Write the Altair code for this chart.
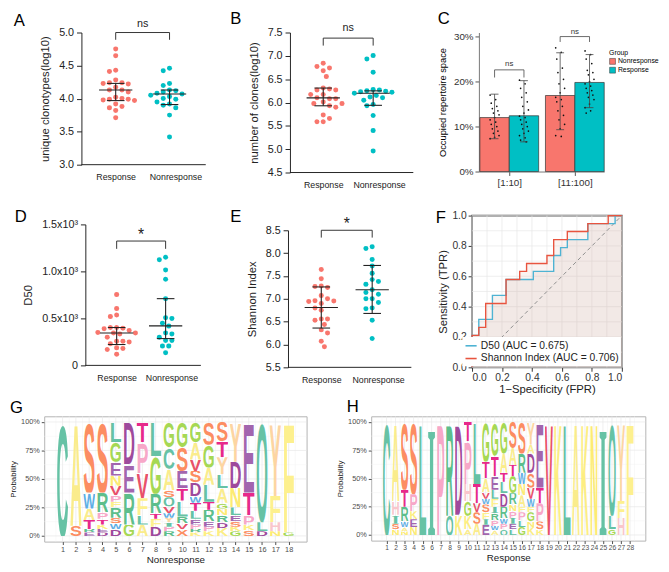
import base64
import numpy as np
import pandas as pd
import altair as alt

FONT = "Liberation Sans"
INK = "#222222"
RED = "#F8766D"
TEAL = "#00BFC4"
GROUPS = ["Response", "Nonresponse"]

# ---------------- A: unique clonotypes (log10)
A_resp = [4.75, 4.65, 4.43, 4.41, 4.28, 4.24, 4.24, 4.23, 4.22, 4.17, 4.13, 4.13,
          4.10, 4.02, 4.00, 3.99, 3.99, 3.98, 3.97, 3.92, 3.88, 3.86, 3.82, 3.71]
A_nonr = [4.46, 4.42, 4.23, 4.20, 4.13, 4.12, 4.10, 4.08, 4.07, 4.05, 4.03, 4.00,
          3.99, 3.95, 3.92, 3.90, 3.86, 3.75, 3.42]
A_med = [4.13, 4.07]
A_q1 = [3.97, 3.91]
A_q3 = [4.23, 4.13]

# ---------------- B: number of clones (log10)
B_resp = [6.84, 6.77, 6.74, 6.68, 6.56, 6.31, 6.29, 6.27, 6.27, 6.17, 6.17, 6.10,
          6.08, 6.08, 6.01, 5.98, 5.98, 5.93, 5.90, 5.73, 5.66, 5.59, 5.59]
B_nonr = [7.01, 6.93, 6.65, 6.28, 6.27, 6.25, 6.24, 6.23, 6.22, 6.20, 6.15, 6.12,
          6.10, 6.05, 5.96, 5.93, 5.72, 5.40, 4.96]
B_med = [6.10, 6.20]
B_q1 = [5.93, 5.94]
B_q3 = [6.31, 6.25]

# ---------------- D: D50
D_resp = [753, 604, 535, 520, 403, 403, 396, 390, 372, 350, 344, 344, 335, 300,
          257, 257, 250, 230, 188, 180, 170, 118]
D_nonr = [1150, 1125, 1015, 917, 708, 507, 500, 448, 420, 344, 333, 300, 264, 264,
          205, 205, 135]
D_med = [344, 420]
D_q1 = [222, 285]
D_q3 = [403, 710]

# ---------------- E: Shannon index
E_resp = [7.64, 7.44, 7.28, 7.27, 7.25, 7.07, 7.00, 6.96, 6.95, 6.94, 6.90, 6.80,
          6.75, 6.56, 6.56, 6.53, 6.44, 6.32, 6.25, 6.07, 5.95]
E_nonr = [8.14, 8.10, 7.86, 7.72, 7.56, 7.42, 7.38, 7.32, 7.20, 7.14, 7.10, 7.00,
          7.00, 6.92, 6.80, 6.78, 6.53, 6.13]
E_med = [6.81, 7.20]
E_q1 = [6.36, 6.68]
E_q3 = [7.26, 7.73]

# ---------------- C: occupied repertoire space
C_cats = ["[1:10]", "[11:100]"]
C_groups = ["Nonresponse", "Response"]
C_mean = {"Nonresponse": [0.120, 0.169], "Response": [0.124, 0.198]}
C_lo = {"Nonresponse": [0.073, 0.093], "Response": [0.066, 0.142]}
C_hi = {"Nonresponse": [0.172, 0.264], "Response": [0.202, 0.260]}
C_pts = {
    ("Nonresponse", 0): [0.170, 0.160, 0.152, 0.145, 0.140, 0.135, 0.130, 0.126, 0.120,
                         0.115, 0.110, 0.105, 0.100, 0.095, 0.090, 0.085, 0.080, 0.076, 0.073],
    ("Response", 0): [0.203, 0.195, 0.185, 0.175, 0.165, 0.155, 0.145, 0.137, 0.130, 0.123,
                      0.120, 0.115, 0.110, 0.105, 0.100, 0.095, 0.090, 0.085, 0.080, 0.075,
                      0.070, 0.066],
    ("Nonresponse", 1): [0.275, 0.265, 0.250, 0.230, 0.220, 0.205, 0.195, 0.185, 0.175, 0.165,
                         0.160, 0.155, 0.145, 0.135, 0.125, 0.115, 0.105, 0.095, 0.080, 0.078],
    ("Response", 1): [0.268, 0.260, 0.250, 0.240, 0.225, 0.220, 0.215, 0.205, 0.200, 0.195,
                      0.190, 0.185, 0.180, 0.175, 0.170, 0.165, 0.160, 0.150, 0.142, 0.135, 0.130],
}

# ---------------- F: ROC
F_names = ["D50 (AUC = 0.675)", "Shannon Index (AUC = 0.706)"]
F_d50_fpr = [0, 0, 0.045, 0.045, 0.136, 0.136, 0.227, 0.227, 0.409, 0.409, 0.545, 0.545,
             0.591, 0.591, 0.636, 0.636, 0.773, 0.773, 0.955, 0.955, 1.0]
F_d50_tpr = [0, 0.211, 0.211, 0.316, 0.316, 0.474, 0.474, 0.579, 0.579, 0.632, 0.632, 0.737,
             0.737, 0.789, 0.789, 0.842, 0.842, 0.947, 0.947, 1.0, 1.0]
F_sh_fpr = [0, 0, 0.045, 0.045, 0.091, 0.091, 0.227, 0.227, 0.318, 0.318, 0.364, 0.364,
            0.500, 0.500, 0.545, 0.545, 0.636, 0.636, 0.773, 0.773, 0.909, 0.909, 1.0]
F_sh_tpr = [0, 0.211, 0.211, 0.263, 0.263, 0.421, 0.421, 0.579, 0.579, 0.632, 0.632, 0.684,
            0.684, 0.737, 0.737, 0.842, 0.842, 0.895, 0.895, 0.947, 0.947, 1.0, 1.0]

# ---------------- G / H: sequence logos (letters listed top to bottom)
G_logo = [
    [("C", 1.0)],
    [("A", .91), ("S", .09)],
    [("S", .62), ("W", .14), ("A", .10), ("T", .08), ("R", .03), ("E", .03)],
    [("S", .62), ("R", .17), ("P", .06), ("T", .05), ("K", .04), ("E", .03), ("D", .03)],
    [("L", .18), ("G", .17), ("E", .12), ("N", .09), ("V", .08), ("P", .06), ("F", .05),
     ("R", .09), ("S", .05), ("W", .05), ("D", .06)],
    [("D", .37), ("E", .25), ("R", .28), ("G", .10)],
    [("T", .18), ("P", .27), ("V", .22), ("F", .15), ("L", .08), ("A", .10)],
    [("L", .30), ("G", .33), ("R", .17), ("T", .05), ("F", .07), ("D", .08)],
    [("G", .22), ("C", .19), ("A", .19), ("S", .06), ("Q", .08), ("V", .06), ("W", .04),
     ("Y", .04), ("I", .04), ("P", .04), ("R", .04)],
    [("G", .22), ("S", .21), ("E", .15), ("T", .11), ("L", .14), ("R", .06), ("V", .05), ("X", .06)],
    [("G", .18), ("A", .15), ("V", .10), ("S", .10), ("D", .12), ("W", .06), ("T", .07),
     ("L", .07), ("E", .05), ("P", .04), ("R", .03), ("K", .03)],
    [("S", .20), ("G", .20), ("A", .15), ("L", .15), ("T", .07), ("R", .10), ("E", .05),
     ("P", .04), ("K", .04)],
    [("S", .17), ("T", .14), ("Y", .15), ("L", .12), ("A", .13), ("G", .05), ("N", .06),
     ("R", .06), ("D", .05), ("K", .07)],
    [("Y", .35), ("D", .23), ("N", .17), ("L", .07), ("E", .05), ("S", .05), ("K", .04), ("G", .04)],
    [("E", .62), ("T", .20), ("P", .08), ("K", .05), ("S", .05)],
    [("Q", .88), ("L", .08), ("D", .04)],
    [("Y", .65), ("F", .23), ("H", .08), ("N", .04)],
    [("F", .97), ("G", .03)],
]
H_logo = [
    [("C", 1.0)],
    [("A", .70), ("H", .12), ("I", .08), ("S", .05), ("N", .05)],
    [("S", .60), ("T", .15), ("R", .13), ("W", .05), ("A", .04), ("N", .03)],
    [("S", .64), ("P", .15), ("K", .07), ("E", .07), ("N", .07)],
    [("L", 1.0)],
    [("I", 1.0)],
    [("P", 1.0)],
    [("R", .83), ("Q", .17)],
    [("D", .82), ("K", .18)],
    [("T", .17), ("P", .38), ("H", .15), ("G", .13), ("K", .12), ("A", .05)],
    [("L", .55), ("T", .17), ("V", .08), ("S", .10), ("A", .10)],
    [("G", .35), ("T", .15), ("A", .12), ("V", .06), ("W", .05), ("S", .07), ("F", .06),
     ("I", .05), ("E", .09)],
    [("G", .30), ("T", .18), ("E", .12), ("L", .08), ("F", .07), ("I", .06), ("R", .06),
     ("P", .05), ("W", .04), ("A", .04)],
    [("G", .28), ("A", .17), ("T", .08), ("L", .10), ("D", .12), ("R", .10), ("W", .05),
     ("P", .05), ("Q", .05)],
    [("S", .23), ("A", .15), ("T", .10), ("G", .15), ("R", .10), ("N", .06), ("P", .06),
     ("I", .05), ("E", .05), ("L", .05)],
    [("S", .28), ("R", .17), ("W", .10), ("N", .10), ("A", .10), ("F", .05), ("P", .07),
     ("L", .06), ("G", .07)],
    [("Y", .20), ("A", .08), ("D", .17), ("S", .13), ("V", .10), ("W", .07), ("F", .05),
     ("G", .08), ("N", .05), ("K", .07)],
    [("E", .58), ("T", .14), ("P", .16), ("S", .07), ("K", .05)],
    [("V", 1.0)],
    [("K", 1.0)],
    [("L", 1.0)],
    [("A", 1.0)],
    [("K", 1.0)],
    [("N", 1.0)],
    [("I", 1.0)],
    [("Q", .83), ("L", .12), ("G", .05)],
    [("Y", .70), ("F", .15), ("H", .15)],
    [("F", 1.0)],
]

LETTER_COLORS = {
    "C": "#66C2A5", "Q": "#66C2A5", "I": "#66C2A5", "L": "#66C2A5", "R": "#5DBE8C",
    "G": "#A6D854", "D": "#9E4A9C", "E": "#A265AE", "T": "#E7298A", "P": "#F7A8C8",
    "V": "#E8516A", "W": "#5DAEE5", "Y": "#FDD5A2", "F": "#FDF08E", "A": "#FAEC8C",
    "N": "#FDEB72", "K": "#FDEE82", "S": "#FC8D62", "H": "#F9C6CC", "M": "#8DA0CB",
    "X": "#FC8D62",
}


def glyph(letter):
    fam = "Liberation Serif" if letter == "I" else "Liberation Sans"
    svg = ("<svg xmlns='http://www.w3.org/2000/svg' width='100' height='100' "
           "viewBox='0 0 100 100' preserveAspectRatio='none'>"
           f"<text x='0' y='100' font-family='{fam}' font-weight='bold' font-size='139' "
           f"textLength='100' lengthAdjust='spacingAndGlyphs' fill='{LETTER_COLORS[letter]}'>"
           f"{letter}</text></svg>")
    return "data:image/svg+xml;base64," + base64.b64encode(svg.encode()).decode()


def swarm(vals, ppy, d):
    order = sorted(range(len(vals)), key=lambda i: -vals[i])
    placed, offs = [], [0.0] * len(vals)
    step = d * 0.5
    for k, i in enumerate(order):
        y = vals[i] * ppy
        sgn = 1 if k % 2 == 0 else -1
        cands = [0.0]
        for j in range(1, 40):
            cands += [sgn * j * step, -sgn * j * step]
        for c in cands:
            if all((c - px) ** 2 + (y - py) ** 2 >= d * d for px, py in placed):
                offs[i] = c
                placed.append((c, y))
                break
    return offs


def panel_letter(letter, x, y):
    """Panel tag, placed in pixels relative to the panel's plot area."""
    return alt.Chart(pd.DataFrame({"t": [letter]})).mark_text(
        align="left", baseline="top", fontSize=17, font=FONT, color="#000000"
    ).encode(text="t:N", x=alt.value(x), y=alt.value(y))


def dot_panel(letter, resp, nonr, med, q1, q3, ydom, yvals, ytitle, h, br, sig, geo,
              tag_xy, fmt=".1f", label_expr=None, ytp=8):
    # geo: plot width, y-axis px, Response px, Nonresponse px, x-axis end px
    w, ax_px, r_px, n_px, end_px = geo
    ppx = float(n_px - r_px)
    xdom = [(0 - r_px) / ppx, (w - r_px) / ppx]
    ppy = h / (ydom[1] - ydom[0])
    rows = []
    for gi, vals in enumerate([resp, nonr]):
        offs = swarm(vals, ppy, 6.4)
        for v, o in zip(vals, offs):
            rows.append({"grp": GROUPS[gi], "v": v, "xo": gi + o / ppx})
    df = pd.DataFrame(rows)
    xs = alt.Scale(domain=xdom, nice=False, zero=False)
    ys = alt.Scale(domain=list(ydom), nice=False, zero=False)
    ykw = dict(values=yvals, title=ytitle, grid=False, format=fmt, labelFontSize=11,
               titleFontSize=11.5, titleFontWeight="normal", titlePadding=ytp, tickSize=5,
               labelPadding=3, domainColor=INK, tickColor=INK, labelColor=INK,
               titleColor=INK, offset=-ax_px)
    if label_expr:
        ykw["labelExpr"] = label_expr
    yaxis = alt.Axis(**ykw)
    xaxis = alt.Axis(values=[0, 1 + 6 / ppx], domain=False, ticks=False,
                     labelExpr="datum.value < 0.5 ? 'Response' : 'Nonresponse'",
                     title=None, grid=False, labelFontSize=9, labelPadding=8,
                     labelColor=INK)

    def X(f):
        return alt.X(f, scale=xs, axis=xaxis)

    def Y(f):
        return alt.Y(f, scale=ys, axis=yaxis)

    base_df = pd.DataFrame({"x0": [(ax_px - r_px) / ppx], "x1": [(end_px - r_px) / ppx],
                            "y": [ydom[0]]})
    baseline = alt.Chart(base_df).mark_rule(color=INK, strokeWidth=1).encode(
        x=X("x0:Q"), x2="x1:Q", y=Y("y:Q"))
    pts = alt.Chart(df).mark_circle(size=26, opacity=1).encode(
        x=X("xo:Q"), y=Y("v:Q"),
        color=alt.Color("grp:N", scale=alt.Scale(domain=GROUPS, range=[RED, TEAL]),
                        legend=None))
    st = pd.DataFrame({"g": [0, 1], "med": med, "q1": q1, "q3": q3})
    st["ml"] = st.g - 17 / ppx
    st["mr"] = st.g + 17 / ppx
    st["cl"] = st.g - 9 / ppx
    st["cr"] = st.g + 9 / ppx
    rule = alt.Chart(st).mark_rule(color=INK, strokeWidth=1.1)
    m1 = rule.encode(x=X("ml:Q"), x2="mr:Q", y=Y("med:Q"))
    m2 = rule.encode(x=X("g:Q"), y=Y("q1:Q"), y2="q3:Q")
    m3 = rule.encode(x=X("cl:Q"), x2="cr:Q", y=Y("q1:Q"))
    m4 = rule.encode(x=X("cl:Q"), x2="cr:Q", y=Y("q3:Q"))
    legs = alt.Chart(pd.DataFrame({"x": [0, 1], "top": [br[0]] * 2, "leg": [br[1]] * 2})
                     ).mark_rule(color="#333333", strokeWidth=1).encode(
        x=X("x:Q"), y=Y("leg:Q"), y2="top:Q")
    hl = alt.Chart(pd.DataFrame({"x0": [0], "x1": [1], "y": [br[0]]})).mark_rule(
        color="#333333", strokeWidth=1).encode(x=X("x0:Q"), x2="x1:Q", y=Y("y:Q"))
    fs = 11 if sig == "ns" else 16
    txt = alt.Chart(pd.DataFrame({"x": [0.5], "y": [br[2]], "t": [sig]})).mark_text(
        fontSize=fs, font=FONT, color=INK, baseline="middle").encode(
        x=X("x:Q"), y=Y("y:Q"), text="t:N")
    tag = panel_letter(letter, *tag_xy)
    return alt.layer(baseline, pts, m1, m2, m3, m4, legs, hl, txt, tag).properties(
        width=w, height=h)


def panel_c(w=128, h=142, tag_xy=(-42, -21.5)):
    xs = alt.Scale(domain=[-0.463, 1.448], nice=False, zero=False)
    ys = alt.Scale(domain=[0, 0.309], nice=False, zero=False)
    bars, dots = [], []
    for ci, cat in enumerate(C_cats):
        for grp in C_groups:
            c = ci - 0.224 if grp == "Nonresponse" else ci + 0.224
            bars.append({"grp": grp, "x0": c - 0.224, "x1": c + 0.224, "c": c, "z": 0.0,
                         "m": C_mean[grp][ci], "lo": C_lo[grp][ci], "hi": C_hi[grp][ci],
                         "cl": c - 0.06, "cr": c + 0.06})
            for k, v in enumerate(C_pts[(grp, ci)]):
                dots.append({"x": c + ((k * 5) % 9 - 4) * 0.017, "v": v})
    bdf = pd.DataFrame(bars)
    ddf = pd.DataFrame(dots)
    xaxis = alt.Axis(values=[0, 1], labelExpr="datum.value == 0 ? '[1:10]' : '[11:100]'",
                     title=None, grid=False, labelFontSize=10, labelColor="#333333",
                     tickColor="#555555", domainColor="#777777", tickSize=4)
    yaxis = alt.Axis(values=[0, 0.1, 0.2, 0.3], format=".0%", grid=False,
                     title="Occupied repertoire space", titleFontSize=9.5,
                     titleFontWeight="normal", labelFontSize=10, labelColor="#333333",
                     tickColor="#555555", domainColor="#777777", tickSize=4, titlePadding=6)

    def X(f):
        return alt.X(f, scale=xs, axis=xaxis)

    def Y(f):
        return alt.Y(f, scale=ys, axis=yaxis)

    bar = alt.Chart(bdf).mark_bar(stroke="#333333", strokeWidth=0.7).encode(
        x=X("x0:Q"), x2="x1:Q", y=Y("m:Q"), y2="z:Q",
        color=alt.Color("grp:N", scale=alt.Scale(domain=C_groups, range=[RED, TEAL]),
                        legend=alt.Legend(title="Group", orient="none", legendX=w + 5,
                                          legendY=17, titleFontSize=7, labelFontSize=7,
                                          titleFontWeight="normal", symbolType="square",
                                          symbolSize=36, symbolStrokeColor="#333333",
                                          symbolStrokeWidth=0.5, rowPadding=0,
                                          titlePadding=2, labelOffset=2)))
    dot = alt.Chart(ddf).mark_circle(size=3, color="#111111", opacity=1).encode(
        x=X("x:Q"), y=Y("v:Q"))
    er = alt.Chart(bdf).mark_rule(color="#444444", strokeWidth=0.8)
    e1 = er.encode(x=X("c:Q"), y=Y("lo:Q"), y2="hi:Q")
    e2 = er.encode(x=X("cl:Q"), x2="cr:Q", y=Y("lo:Q"))
    e3 = er.encode(x=X("cl:Q"), x2="cr:Q", y=Y("hi:Q"))
    brd = pd.DataFrame({"x0": [-0.224, 0.776], "x1": [0.224, 1.224],
                        "top": [0.226, 0.300], "leg": [0.209, 0.288],
                        "xm": [0.0, 1.0], "ty": [0.238, 0.311], "t": ["ns", "ns"]})
    b1 = alt.Chart(brd).mark_rule(color="#444444", strokeWidth=0.8).encode(
        x=X("x0:Q"), x2="x1:Q", y=Y("top:Q"))
    b2 = alt.Chart(brd).mark_rule(color="#444444", strokeWidth=0.8).encode(
        x=X("x0:Q"), y=Y("leg:Q"), y2="top:Q")
    b3 = alt.Chart(brd).mark_rule(color="#444444", strokeWidth=0.8).encode(
        x=X("x1:Q"), y=Y("leg:Q"), y2="top:Q")
    bt = alt.Chart(brd).mark_text(fontSize=8, font=FONT, color="#333333").encode(
        x=X("xm:Q"), y=Y("ty:Q"), text="t:N")
    tag = panel_letter("C", *tag_xy)
    return alt.layer(bar, dot, e1, e2, e3, b1, b2, b3, bt, tag).properties(
        width=w, height=h)


def panel_f(w=153, h=155, tag_xy=(-37, -5.5)):
    xs = alt.Scale(domain=[0, 1], nice=False, zero=False)
    ys = alt.Scale(domain=[0, 1], nice=False, zero=False)
    BLUE, ORG = "#4EB3D3", "#E8543F"
    cscale = alt.Scale(domain=F_names, range=[BLUE, ORG])
    d50 = pd.DataFrame({"fpr": F_d50_fpr, "tpr": F_d50_tpr, "name": F_names[0],
                        "i": range(len(F_d50_fpr))})
    sh = pd.DataFrame({"fpr": F_sh_fpr, "tpr": F_sh_tpr, "name": F_names[1],
                       "i": range(len(F_sh_fpr))})
    gv = pd.DataFrame({"g": np.round(np.arange(0, 1.0001, 0.1), 2)})
    xaxis = alt.Axis(values=[0, 0.2, 0.4, 0.6, 0.8, 1.0], format=".1f", grid=False,
                     domain=False, tickSize=4, labelFontSize=10.5, labelColor="#333333",
                     tickColor="#333333", title="1\u2212Specificity (FPR)",
                     titleFontSize=11.5, titleFontWeight="normal", titleColor=INK,
                     titlePadding=1, labelPadding=1)
    yaxis = alt.Axis(values=[0, 0.2, 0.4, 0.6, 0.8, 1.0], format=".1f", grid=False,
                     domain=False, tickSize=4, labelFontSize=10.5, labelColor="#333333",
                     tickColor="#333333", title="Sensitivity (TPR)", titleFontSize=11.5,
                     titleFontWeight="normal", titleColor=INK, titlePadding=3)

    def X(f):
        return alt.X(f, scale=xs, axis=xaxis)

    def Y(f):
        return alt.Y(f, scale=ys, axis=yaxis, stack=None)

    g1 = alt.Chart(gv).mark_rule(color="#E6E6E6", strokeWidth=0.7).encode(x=X("g:Q"))
    g2 = alt.Chart(gv).mark_rule(color="#E6E6E6", strokeWidth=0.7).encode(y=Y("g:Q"))
    a1 = alt.Chart(d50).mark_area(color="#C7B6AC", opacity=0.16).encode(
        x=X("fpr:Q"), y=Y("tpr:Q"))
    a2 = alt.Chart(sh).mark_area(color="#E3B3A6", opacity=0.16).encode(
        x=X("fpr:Q"), y=Y("tpr:Q"))
    diag = alt.Chart(pd.DataFrame({"d": [0, 1]})).mark_line(
        color="#8C8C8C", strokeDash=[4, 3], strokeWidth=1).encode(x=X("d:Q"), y=Y("d:Q"))
    leg = alt.Legend(title=None, orient="bottom-right", offset=1, fillColor="white",
                     padding=2, labelFontSize=10.5, labelColor=INK, symbolType="stroke",
                     symbolStrokeWidth=1.6, symbolSize=130, rowPadding=0, labelOffset=3)
    l1 = alt.Chart(d50).mark_line(strokeWidth=1.4).encode(
        x=X("fpr:Q"), y=Y("tpr:Q"), order="i:Q",
        color=alt.Color("name:N", scale=cscale, legend=leg))
    l2 = alt.Chart(sh).mark_line(strokeWidth=1.4).encode(
        x=X("fpr:Q"), y=Y("tpr:Q"), order="i:Q",
        color=alt.Color("name:N", scale=cscale, legend=leg))
    tag = panel_letter("F", *tag_xy)
    return alt.layer(g1, g2, a1, a2, diag, l1, l2, tag).properties(
        width=w, height=h, view=alt.ViewBackground(stroke="#5A5A5A", strokeWidth=1.6))


def logo_panel(letter, logo, xdom, w, h, xtitle, tag_xy, xfs=7.5):
    n = len(logo)
    rows = []
    for p, items in enumerate(logo, start=1):
        tot = sum(v for _, v in items)
        top = 1.0
        for aa, v in items:
            hgt = v / tot
            rows.append({"x0": p - 0.45, "x1": p + 0.45, "y1": top, "y0": top - hgt,
                         "url": glyph(aa)})
            top -= hgt
    df = pd.DataFrame(rows)
    xs = alt.Scale(domain=list(xdom), nice=False, zero=False)
    ys = alt.Scale(domain=[-0.05, 1.05], nice=False, zero=False)
    xaxis = alt.Axis(values=list(range(1, n + 1)), labelOverlap=False, labelFlush=False,
                     labelFontSize=xfs, labelColor="#4D4D4D", tickColor="#4D4D4D",
                     tickSize=3, domain=False, grid=False, title=xtitle, titleFontSize=10,
                     titleFontWeight="normal", titleColor=INK, titlePadding=2, labelAngle=0,
                     labelPadding=1)
    yaxis = alt.Axis(values=[0, 0.25, 0.5, 0.75, 1.0], format=".0%", labelFontSize=7.5,
                     labelColor="#4D4D4D", tickColor="#4D4D4D", tickSize=3, domain=False,
                     grid=False, title="Probability", titleFontSize=8,
                     titleFontWeight="normal", titleColor=INK, titlePadding=3)
    vmaj = pd.DataFrame({"g": np.arange(1, n + 1)})
    vmin = pd.DataFrame({"g": np.arange(0.5, n + 1, 1.0)})
    hmaj = pd.DataFrame({"g": [0, 0.25, 0.5, 0.75, 1.0]})
    hmin = pd.DataFrame({"g": [0.125, 0.375, 0.625, 0.875]})

    def X(f):
        return alt.X(f, scale=xs, axis=xaxis)

    def Y(f):
        return alt.Y(f, scale=ys, axis=yaxis)

    r1 = alt.Chart(vmaj).mark_rule(color="#E8E8E8", strokeWidth=0.7).encode(x=X("g:Q"))
    r2 = alt.Chart(vmin).mark_rule(color="#F2F2F2", strokeWidth=0.5).encode(x=X("g:Q"))
    r3 = alt.Chart(hmaj).mark_rule(color="#E8E8E8", strokeWidth=0.7).encode(y=Y("g:Q"))
    r4 = alt.Chart(hmin).mark_rule(color="#F2F2F2", strokeWidth=0.5).encode(y=Y("g:Q"))
    img = alt.Chart(df).mark_image(aspect=False).encode(
        x=X("x0:Q"), x2="x1:Q", y=Y("y0:Q"), y2="y1:Q", url="url:N")
    tag = panel_letter(letter, *tag_xy)
    return alt.layer(r2, r4, r1, r3, img, tag).properties(
        width=w, height=h, view=alt.ViewBackground(stroke="#B3B3B3", strokeWidth=1))


pA = dot_panel("A", A_resp, A_nonr, A_med, A_q1, A_q3, [3, 5], [3, 3.5, 4, 4.5, 5],
               "unique clonotypes(log10)", 135, (5.0, 4.89, 5.13), "ns",
               geo=(167, 38, 73, 128, 165), tag_xy=(-31, -19.5))
pB = dot_panel("B", B_resp, B_nonr, B_med, B_q1, B_q3, [4.5, 7.5],
               [4.5, 5, 5.5, 6, 6.5, 7, 7.5], "number of clones(log10)", 143,
               (7.38, 7.22, 7.59), "ns", geo=(126, 0, 34, 85, 126), tag_xy=(-61, -21.5))
pC = panel_c()
pD = dot_panel("D", D_resp, D_nonr, D_med, D_q1, D_q3, [0, 1500], [0, 500, 1000, 1500],
               "D50", 144, (1323, 1240, 1390), "*", geo=(167, 42, 74, 124, 160),
               tag_xy=(-30, -15.5),
               label_expr="datum.value == 0 ? '0' : format(datum.value / 1000, '.1f') + 'x10\u00b3'")
pE = dot_panel("E", E_resp, E_nonr, E_med, E_q1, E_q3, [5.5, 8.5],
               [5.5, 6, 6.5, 7, 7.5, 8, 8.5], "Shannon Index", 140,
               (8.5, 8.34, 8.63), "*", geo=(126, 0, 34, 86, 126), tag_xy=(-59, -21.5))
pF = panel_f()
pG = logo_panel("G", G_logo, (-0.38, 19.35), 268, 128, "Nonresponse", tag_xy=(-35, -16.5))
pH = logo_panel("H", H_logo, (-0.7, 29.7), 280, 127, "Response", tag_xy=(-25, -17.5),
                xfs=6.8)

top = alt.concat(pA, pB, pC, pD, pE, pF, columns=3, align="none",
                 spacing={"row": 19, "column": 23}).resolve_scale(color="independent")
bottom = alt.hconcat(pG, pH, spacing=29)

chart = alt.vconcat(top, bottom, spacing=2).resolve_scale(color="independent").properties(
    padding={"left": 1, "top": -4, "right": 2, "bottom": 1}
).configure(font=FONT).configure_view(stroke=None).configure_axis(
    labelFont=FONT, titleFont=FONT).configure_legend(labelFont=FONT, titleFont=FONT)

chart.save("out.html", embed_options={"renderer": "svg", "actions": False})
